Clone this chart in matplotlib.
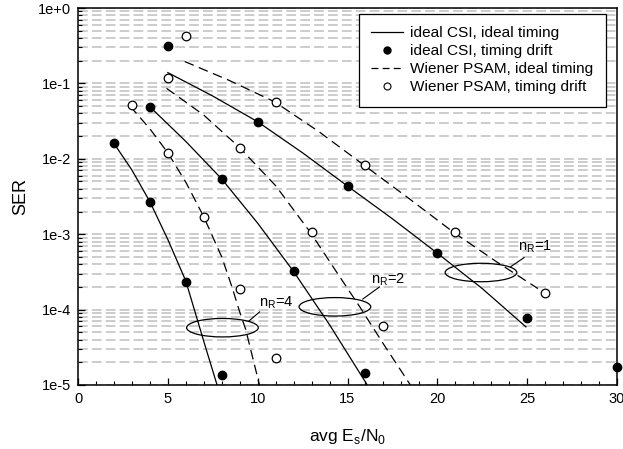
import numpy as np
import matplotlib
matplotlib.use("Agg")
import matplotlib.pyplot as plt
from matplotlib.lines import Line2D
from matplotlib.patches import Ellipse
from matplotlib.ticker import MultipleLocator, LogLocator, FuncFormatter, NullFormatter

plt.rcParams["font.family"] = ["Liberation Sans", "DejaVu Sans"]
plt.rcParams["mathtext.fontset"] = "custom"
plt.rcParams["mathtext.rm"] = "Liberation Sans"
plt.rcParams["lines.scale_dashes"] = False

# ------------------------------------------------------------
# dados
# ------------------------------------------------------------

# curvas: ideal CSI, ideal timing (linha cheia)
x_csi_n4 = [2, 3, 4, 5, 6, 7, 7.74]
y_csi_n4 = [1.6e-2, 7.1e-3, 2.7e-3, 8.5e-4, 2.4e-4, 3.8e-5, 1e-5]
x_csi_n2 = [4, 6, 8, 10, 12, 14, 16.1]
y_csi_n2 = [4.9e-2, 1.7e-2, 5.4e-3, 1.4e-3, 3.2e-4, 6.3e-5, 1e-5]
x_csi_n1 = [5, 7.5, 10, 12.5, 15, 17.5, 20, 22.5, 24.93]
y_csi_n1 = [0.139, 6.8e-2, 3.1e-2, 1.2e-2, 4.35e-3, 1.6e-3, 5.6e-4, 1.9e-4, 5.9e-5]

# curvas: Wiener PSAM, ideal timing (tracejada)
x_psam_n4 = [2.9, 4, 5, 6, 7, 8, 8.6, 9, 9.33, 10.1]
y_psam_n4 = [5.0e-2, 2.5e-2, 1.2e-2, 4.9e-3, 1.7e-3, 5.0e-4, 1.9e-4, 9.3e-5, 5.5e-5, 1e-5]
x_psam_n2 = [4.93, 7, 8.94, 11, 12.93, 14.3, 15.67, 17, 18.5]
y_psam_n2 = [8.6e-2, 3.8e-2, 1.45e-2, 4.4e-3, 1.06e-3, 3.4e-4, 1.1e-4, 3.5e-5, 1e-5]
x_psam_n1 = [5.94, 8.4, 10.94, 13.4, 15.93, 18.4, 20.9, 23.3, 25.6]
y_psam_n1 = [0.195, 0.11, 5.7e-2, 2.3e-2, 8.2e-3, 3.0e-3, 1.06e-3, 4.3e-4, 1.9e-4]

# pontos: ideal CSI, timing drift (cheios)
x_drift_csi = [2, 4, 6, 8, 4, 8, 12, 16, 5, 10, 15, 20, 25, 30]
y_drift_csi = [1.6e-2, 2.7e-3, 2.35e-4, 1.35e-5,
               4.9e-2, 5.4e-3, 3.3e-4, 1.45e-5,
               0.31, 3.1e-2, 4.35e-3, 5.6e-4, 7.8e-5, 1.75e-5]

# pontos: Wiener PSAM, timing drift (vazios)
x_drift_psam = [3, 5, 7, 9, 11, 5, 9, 13, 17, 6, 11, 16, 21, 26]
y_drift_psam = [5.1e-2, 1.2e-2, 1.7e-3, 1.85e-4, 2.3e-5,
                0.119, 1.4e-2, 1.06e-3, 6.0e-5,
                0.42, 5.7e-2, 8.2e-3, 1.06e-3, 1.66e-4]

# anotações n_R: centro da elipse, ponta da linha guia, posição do texto
rotulos_nr = ["4", "2", "1"]
elipse_centro = [(8.04, 10**-4.24), (14.3, 10**-3.963), (22.43, 10**-3.508)]
guia_ini = [(9.52, 10**-4.15), (15.85, 10**-3.86), (24.09, 10**-3.43)]
guia_fim = [(10.11, 10**-4.03), (16.78, 10**-3.70), (24.83, 10**-3.31)]
texto_pos = [(10.08, 10**-4.02), (16.3, 10**-3.71), (24.5, 10**-3.28)]

# ------------------------------------------------------------
# figura
# ------------------------------------------------------------

fig = plt.figure(figsize=(6.23, 4.49), dpi=100)
ax = fig.add_axes([78 / 623, 1 - 385 / 449, 539 / 623, 377 / 449])

ax.set_yscale("log")
ax.set_xlim(0, 30)
ax.set_ylim(1e-5, 1)

estilo_tracejado = dict(color="black", lw=0.9, linestyle=(0, (7, 4)))
estilo_cheio = dict(color="black", lw=0.9)

ax.plot(x_csi_n4, y_csi_n4, **estilo_cheio, zorder=3)
ax.plot(x_csi_n2, y_csi_n2, **estilo_cheio, zorder=3)
ax.plot(x_csi_n1, y_csi_n1, **estilo_cheio, zorder=3)
ax.plot(x_psam_n4, y_psam_n4, **estilo_tracejado, zorder=3)
ax.plot(x_psam_n2, y_psam_n2, **estilo_tracejado, zorder=3)
ax.plot(x_psam_n1, y_psam_n1, **estilo_tracejado, zorder=3)

ax.plot(x_drift_csi, y_drift_csi, "o", color="black", ms=6, zorder=4, clip_on=False)
ax.plot(x_drift_psam, y_drift_psam, "o", mfc="white", mec="black", mew=0.9, ms=6.2, zorder=4)

# elipses e rótulos
fig.canvas.draw()
para_eixos = ax.transData + ax.transAxes.inverted()
for rot, centro, p0, p1, tp in zip(rotulos_nr, elipse_centro, guia_ini, guia_fim, texto_pos):
    cx, cy = para_eixos.transform(centro)
    ax.add_patch(Ellipse((cx, cy), 0.133, 0.049, transform=ax.transAxes,
                         fill=False, edgecolor="black", lw=0.9, zorder=5))
    ax.plot([p0[0], p1[0]], [p0[1], p1[1]], color="black", lw=0.8, zorder=5)
    ax.text(tp[0], tp[1], "n$_\\mathrm{R}$=" + rot, fontsize=10.5,
            ha="left", va="bottom", zorder=5)

# eixos e grade
ax.xaxis.set_major_locator(MultipleLocator(5))
ax.xaxis.set_minor_locator(MultipleLocator(1))
ax.yaxis.set_major_locator(LogLocator(base=10, numticks=10))
ax.yaxis.set_minor_locator(LogLocator(base=10, subs=np.arange(2, 10), numticks=10))
ax.yaxis.set_major_formatter(FuncFormatter(lambda v, p: "1e%+d" % int(round(np.log10(v)))))
ax.yaxis.set_minor_formatter(NullFormatter())

ax.tick_params(which="both", direction="in", top=False, right=False, labelsize=10.5, pad=5)
ax.tick_params(which="major", length=5, width=0.9)
ax.tick_params(which="minor", length=3, width=0.8)
for sp in ax.spines.values():
    sp.set_linewidth(1.1)

ax.yaxis.grid(True, which="both", color="#c8c8c8", lw=1.3, linestyle=(0, (7, 3)), zorder=0)
ax.set_axisbelow(True)

ax.set_xlabel("avg E$_\\mathrm{s}$/N$_\\mathrm{0}$", fontsize=12.5, labelpad=15)
ax.set_ylabel("SER", fontsize=13, labelpad=6)

# legenda
handles = [
    Line2D([], [], color="black", lw=0.9),
    Line2D([], [], color="black", marker="o", ms=5, linestyle="none"),
    Line2D([], [], color="black", lw=0.9, linestyle=(0, (5, 3))),
    Line2D([], [], marker="o", mfc="white", mec="black", mew=0.8, ms=5, linestyle="none"),
]
nomes = ["ideal CSI, ideal timing", "ideal CSI, timing drift",
         "Wiener PSAM, ideal timing", "Wiener PSAM, timing drift"]
leg = ax.legend(handles, nomes, loc="upper right",
                bbox_to_anchor=((606 - 78) / 539, 1 - 6 / 377), borderaxespad=0,
                fontsize=11.1, frameon=True, fancybox=False, framealpha=1,
                edgecolor="black", handlelength=2.1, labelspacing=0.26,
                borderpad=0.8, handletextpad=0.45)
leg.get_frame().set_linewidth(0.9)
leg.set_zorder(10)

fig.savefig("out.png", dpi=100)
